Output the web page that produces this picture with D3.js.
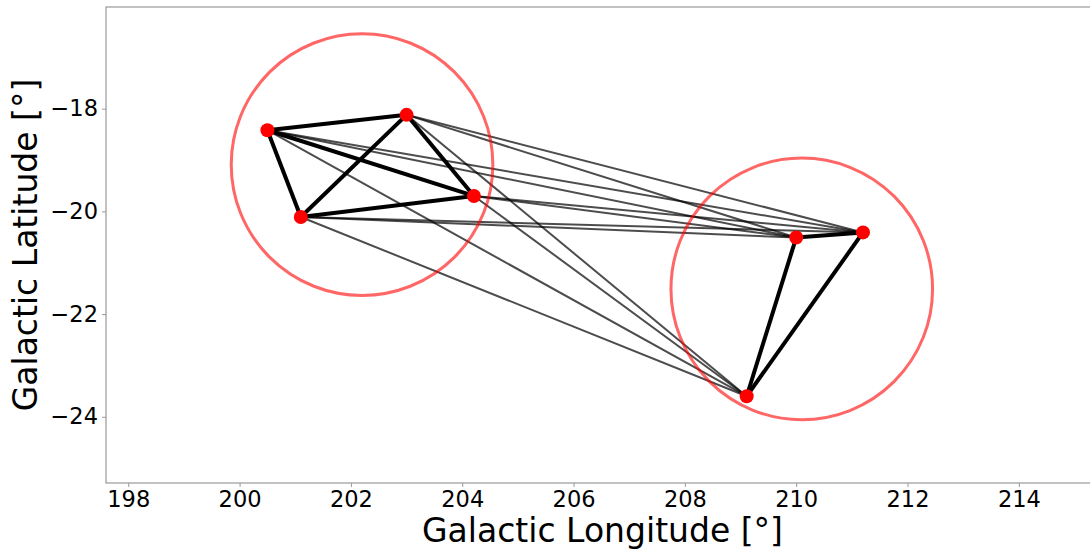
<!DOCTYPE html>
<html>
<head>
<meta charset="utf-8">
<script src="https://cdn.jsdelivr.net/npm/d3@7"></script>
<style>
  body { margin: 0; background: #fff; }
  svg { display: block; font-family: "DejaVu Sans", sans-serif; }
</style>
</head>
<body>
<div id="chart"></div>
<script>
// stars (galactic coords, degrees) and which group each belongs to
var starLon = [200.50, 203.00, 204.21, 201.10, 210.00, 211.20, 209.11];
var starLat = [-18.42, -18.12, -19.70, -20.11, -20.51, -20.41, -23.60];
var starGroup = [0, 0, 0, 0, 1, 1, 1];

// group circles
var groupLon = [202.20, 210.10];
var groupLat = [-19.09, -21.51];
var groupRadius = [2.35, 2.35];

var xTicks = [198, 200, 202, 204, 206, 208, 210, 212, 214];
var yTicks = [-18, -20, -22, -24];

var W = 1090, H = 550;
var margin = {left: 106, top: 7, right: -9, bottom: 67};

var svg = d3.select("#chart").append("svg")
	.attr("width", W).attr("height", H);

var x = d3.scaleLinear().domain([197.6, 215.44]).range([margin.left, W - margin.right]);
var y = d3.scaleLinear().domain([-25.29, -16.02]).range([H - margin.bottom, margin.top]);

// build the edge list: all pairs
var edges = [];
for (var i = 0; i < starLon.length; i++){
	for (var j = i + 1; j < starLon.length; j++){
		edges.push({a: i, b: j, same: starGroup[i] == starGroup[j]});
	}
}

var plot = svg.append("g");

// lines between groups (thin, grey)
plot.selectAll(".cross").data(edges.filter(function(d){ return !d.same; }))
	.enter().append("line").attr("class", "cross")
	.attr("x1", function(d){ return x(starLon[d.a]); })
	.attr("y1", function(d){ return y(starLat[d.a]); })
	.attr("x2", function(d){ return x(starLon[d.b]); })
	.attr("y2", function(d){ return y(starLat[d.b]); })
	.style("stroke", "#000").style("stroke-opacity", 0.7)
	.style("stroke-width", 2);

// lines inside a group (thick, black)
plot.selectAll(".inner").data(edges.filter(function(d){ return d.same; }))
	.enter().append("line").attr("class", "inner")
	.attr("x1", function(d){ return x(starLon[d.a]); })
	.attr("y1", function(d){ return y(starLat[d.a]); })
	.attr("x2", function(d){ return x(starLon[d.b]); })
	.attr("y2", function(d){ return y(starLat[d.b]); })
	.style("stroke", "#000")
	.style("stroke-width", 4);

// group circles
plot.selectAll(".group").data(groupLon)
	.enter().append("circle").attr("class", "group")
	.attr("cx", function(d){ return x(d); })
	.attr("cy", function(d, i){ return y(groupLat[i]); })
	.attr("r", function(d, i){ return x(groupLon[i] + groupRadius[i]) - x(groupLon[i]); })
	.style("fill", "none")
	.style("stroke", "#ff0000").style("stroke-opacity", 0.6)
	.style("stroke-width", 3);

// the stars
plot.selectAll(".star").data(starLon)
	.enter().append("circle").attr("class", "star")
	.attr("cx", function(d){ return x(d); })
	.attr("cy", function(d, i){ return y(starLat[i]); })
	.attr("r", 7)
	.style("fill", "#ff0000");

// frame
var axisColor = "#999";
svg.append("rect")
	.attr("x", margin.left).attr("y", margin.top)
	.attr("width", W - margin.right - margin.left)
	.attr("height", H - margin.bottom - margin.top)
	.style("fill", "none").style("stroke", axisColor).style("stroke-width", 1.2);

var xAxis = svg.append("g")
	.attr("transform", "translate(0," + (H - margin.bottom) + ")")
	.call(d3.axisBottom(x).tickValues(xTicks).tickSize(4).tickPadding(4).tickFormat(d3.format("d")));
var yAxis = svg.append("g")
	.attr("transform", "translate(" + margin.left + ",0)")
	.call(d3.axisLeft(y).tickValues(yTicks).tickSize(4).tickPadding(4)
		.tickFormat(function(d){ return "\u2212" + Math.abs(d); }));

[xAxis, yAxis].forEach(function(a){
	a.select(".domain").remove();
	a.selectAll(".tick line").style("stroke", axisColor);
	a.selectAll(".tick text").style("font-size", "22.5px").style("fill", "#000")
		.style("font-family", "DejaVu Sans, sans-serif");
});

svg.append("text")
	.attr("x", (margin.left + W - margin.right) / 2).attr("y", 542)
	.attr("text-anchor", "middle")
	.style("font-size", "33px")
	.text("Galactic Longitude [\u00b0]");

svg.append("text")
	.attr("transform", "translate(37," + ((margin.top + H - margin.bottom) / 2) + ") rotate(-90)")
	.attr("text-anchor", "middle")
	.style("font-size", "33px")
	.text("Galactic Latitude [\u00b0]");
</script>
</body>
</html>
